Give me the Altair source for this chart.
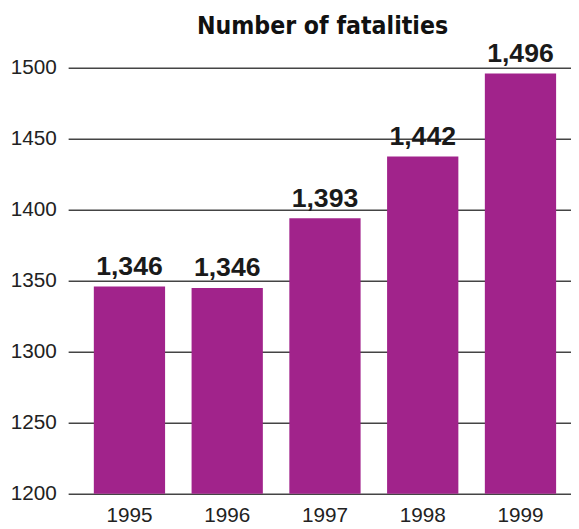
import altair as alt
import pandas as pd

years = ["1995", "1996", "1997", "1998", "1999"]
fatalities = [1346, 1345, 1394, 1437.5, 1496]
value_labels = ["1,346", "1,346", "1,393", "1,442", "1,496"]
y_ticks = [1200, 1250, 1300, 1350, 1400, 1450, 1500]
chart_title = ["Number of fatalities"]

df = pd.DataFrame({"year": years, "value": fatalities, "label": value_labels})
df_title = pd.DataFrame({"t": chart_title})

x_enc = alt.X(
    "year:N",
    sort=years,
    scale=alt.Scale(paddingInner=0.271, paddingOuter=0.2075, align=0.633),
    axis=alt.Axis(
        title=None, labelAngle=0, ticks=False, domain=False, labelPadding=11,
        labelFont="Liberation Sans", labelFontSize=21, labelColor="#222222",
    ),
)
y_enc = alt.Y(
    "value:Q",
    scale=alt.Scale(domain=[1200, 1500], zero=False, nice=False),
    axis=alt.Axis(
        title=None, values=y_ticks, format="d", grid=True, gridColor="#444444",
        gridWidth=1.5, domain=False, ticks=False, labelPadding=12,
        labelFont="Liberation Sans", labelFontSize=21, labelColor="#222222",
    ),
)

bars = alt.Chart(df).mark_bar(color="#A1238B", clip=True).encode(x=x_enc, y=y_enc)

texts = alt.Chart(df).mark_text(
    font="Liberation Sans", fontSize=27, fontWeight="bold", color="#1a1a1a",
    baseline="alphabetic", dy=-12,
).encode(x=alt.X("year:N", sort=years), y="value:Q", text="label:N")

title_text = alt.Chart(df_title).mark_text(
    font="Liberation Sans Narrow, DejaVu Sans Condensed, sans-serif",
    fontSize=25, fontWeight="bold", color="#111111",
    baseline="alphabetic", align="center",
).encode(x=alt.value(258), y=alt.value(-34), text="t:N")

chart = (
    alt.layer(bars, texts, title_text)
    .properties(
        width=510,
        height=432,
        autosize=alt.AutoSizeParams(type="none"),
        padding={"left": 61, "top": 57, "right": 0, "bottom": 32},
    )
    .configure_view(stroke=None)
)

chart.save("out.html", embed_options={"renderer": "svg", "actions": False})
